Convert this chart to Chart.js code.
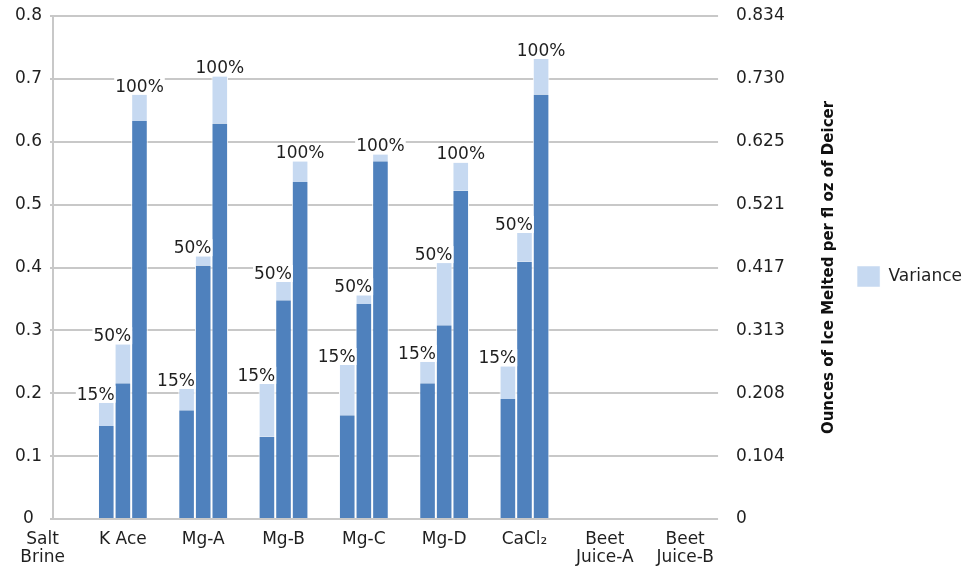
<!DOCTYPE html>
<html>
<head>
<meta charset="utf-8">
<script src="https://cdn.jsdelivr.net/npm/chart.js@4/dist/chart.umd.min.js"></script>
<style>
  html, body { margin: 0; padding: 0; background: #fff; }
  #wrap { width: 977px; height: 569px; }
</style>
</head>
<body>
<div id="wrap"><canvas id="c"></canvas></div>
<script>
// Deicer products along the bottom axis
const categories = [['Salt', 'Brine'], 'K Ace', 'Mg-A', 'Mg-B', 'Mg-C', 'Mg-D', 'CaCl₂', ['Beet', 'Juice-A'], ['Beet', 'Juice-B']];
// Dilution levels tested for each product
const concentrations = ['15%', '50%', '100%'];

// Mean ounces of ice melted (lower solid part of each bar)
const melt15  = [null, 0.148, 0.173, 0.131, 0.165, 0.216, 0.191, null, null];
const melt50  = [null, 0.216, 0.403, 0.348, 0.342, 0.308, 0.409, null, null];
const melt100 = [null, 0.633, 0.629, 0.536, 0.569, 0.522, 0.675, null, null];

// Variance stacked on top of each mean
const var15  = [null, 0.037, 0.034, 0.084, 0.080, 0.034, 0.052, null, null];
const var50  = [null, 0.062, 0.015, 0.029, 0.014, 0.099, 0.046, null, null];
const var100 = [null, 0.042, 0.075, 0.033, 0.011, 0.045, 0.057, null, null];

// Secondary (right) axis tick values
const rightTicks = [0, 0.104, 0.208, 0.313, 0.417, 0.521, 0.625, 0.730, 0.834];

const means = [melt15, melt50, melt100];
const variances = [var15, var50, var100];

const DARK = '#4f81bd';
const LIGHT = '#c6d9f1';
const GRID = '#c8c8c8';
const TEXT = '#1f1f1f';
const FONT = '"DejaVu Sans", Verdana, sans-serif';

Chart.defaults.font.family = FONT;
Chart.defaults.font.size = 17;
Chart.defaults.color = TEXT;

function points(arr) {
  return arr.map((v, i) => (v == null ? null : { x: i, y: v })).filter(p => p !== null);
}

const datasets = [];
concentrations.forEach((c, k) => {
  datasets.push({
    label: c,
    data: points(means[k]),
    backgroundColor: DARK,
    borderColor: '#ffffff',
    borderWidth: { left: 1, right: 1, top: 0, bottom: 0 },
    borderSkipped: false,
    stack: c
  });
  datasets.push({
    label: 'Variance',
    data: points(variances[k]),
    backgroundColor: LIGHT,
    borderColor: '#ffffff',
    borderWidth: { left: 1, right: 1, top: 0, bottom: 0 },
    borderSkipped: false,
    stack: c
  });
});

// Concentration label above each bar, on a white patch
const barLabels = {
  id: 'barLabels',
  afterDatasetsDraw(chart) {
    const ctx = chart.ctx;
    ctx.save();
    ctx.font = '17px ' + FONT;
    ctx.textBaseline = 'alphabetic';
    ctx.textAlign = 'left';
    concentrations.forEach((label, k) => {
      const meta = chart.getDatasetMeta(2 * k + 1);
      meta.data.forEach(bar => {
        const p = bar.getProps(['x', 'y', 'width'], true);
        const w = ctx.measureText(label).width;
        const right = k < 2 ? p.x + p.width / 2 : p.x + w / 2;
        const left = right - w;
        const base = p.y - 3;
        ctx.fillStyle = '#ffffff';
        ctx.fillRect(left - 1, base - 14, w + 2, 17);
        ctx.fillStyle = TEXT;
        ctx.fillText(label, left, base);
      });
    });
    ctx.restore();
  }
};

// Right-hand axis title, reading bottom to top
const rightTitle = {
  id: 'rightTitle',
  afterDraw(chart) {
    const s = chart.scales.y1;
    const ctx = chart.ctx;
    ctx.save();
    ctx.translate(s.left + 111, (chart.chartArea.top + chart.chartArea.bottom) / 2);
    ctx.rotate(-Math.PI / 2);
    ctx.textAlign = 'center';
    ctx.textBaseline = 'middle';
    ctx.font = 'bold 15px ' + FONT;
    ctx.fillStyle = '#111111';
    ctx.fillText('Ounces of Ice Melted per fl oz of Deicer', 0, 0);
    ctx.restore();
  }
};

function noOverflow(scale) {
  scale.paddingTop = 0;
  scale.paddingBottom = 0;
  scale.paddingLeft = 0;
  scale.paddingRight = 0;
}

new Chart(document.getElementById('c'), {
  type: 'bar',
  data: { datasets },
  plugins: [barLabels, rightTitle],
  options: {
    responsive: true,
    maintainAspectRatio: false,
    animation: false,
    layout: { padding: { top: 16, left: 0, right: 5, bottom: 0 } },
    datasets: { bar: { categoryPercentage: 0.62, barPercentage: 1 } },
    plugins: {
      tooltip: { enabled: false },
      legend: {
        position: 'right',
        align: 'center',
        fullSize: false,
        title: { display: true, text: '', font: { size: 10, lineHeight: 1.2 }, padding: 3 },
        labels: {
          boxWidth: 23,
          boxHeight: 21,
          padding: 10,
          font: { size: 17 },
          color: TEXT,
          filter: item => item.datasetIndex === 1
        }
      }
    },
    scales: {
      x: {
        type: 'linear',
        offset: false,
        min: 0.13,
        max: 8.41,
        grid: { display: false, drawTicks: false },
        border: { display: false },
        afterBuildTicks: scale => { scale.ticks = categories.map((_, i) => ({ value: i })); },
        afterFit: scale => { scale.height = 50; noOverflow(scale); },
        ticks: {
          autoSkip: false,
          maxRotation: 0,
          minRotation: 0,
          padding: 11,
          font: { size: 17, lineHeight: 1.1 },
          color: TEXT,
          callback: v => categories[v]
        }
      },
      y: {
        position: 'left',
        stacked: true,
        min: 0,
        max: 0.8,
        ticks: { stepSize: 0.1, padding: 8, crossAlign: 'center', color: TEXT, font: { size: 17 } },
        grid: { color: GRID, lineWidth: 2, tickLength: 3 },
        border: { display: true, color: GRID, width: 2 },
        afterFit: scale => { scale.width = 53; noOverflow(scale); }
      },
      y1: {
        position: 'right',
        min: 0,
        max: 0.834,
        grid: { display: false, drawTicks: false },
        border: { display: false },
        afterBuildTicks: scale => { scale.ticks = rightTicks.map(v => ({ value: v })); },
        afterFit: scale => { scale.width = 129; noOverflow(scale); },
        ticks: {
          padding: 18,
          color: TEXT,
          font: { size: 17 },
          callback: v => (v === 0 ? '0' : v.toFixed(3))
        }
      }
    }
  }
});
</script>
</body>
</html>
